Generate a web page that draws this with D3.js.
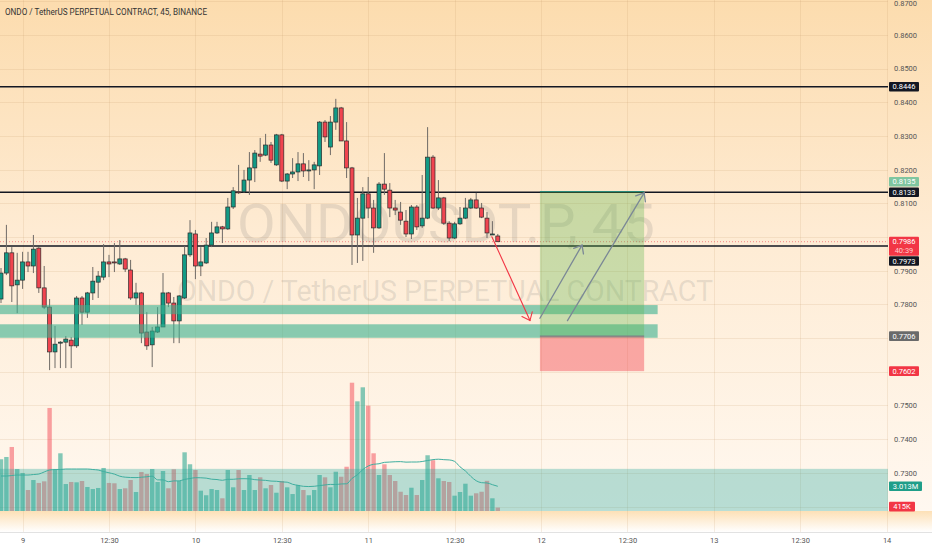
<!DOCTYPE html>
<html><head><meta charset="utf-8">
<script src="https://cdn.jsdelivr.net/npm/d3@7"></script>
<style>html,body{margin:0;padding:0;background:#fff;overflow:hidden}svg{display:block;font-family:Roboto,"Liberation Sans",sans-serif}</style>
</head><body><svg id="c" width="932" height="550"></svg>
<script>
// ---- DATA (ONDOUSDT.P, 45m) ----
const opens=[0.7816,0.7893,0.7953,0.7858,0.7872,0.7926,0.7914,0.7967,0.7849,0.7792,0.7659,0.7685,0.7688,0.7694,0.7677,0.7819,0.7777,0.7834,0.7866,0.7881,0.7926,0.7926,0.7920,0.7935,0.7902,0.7819,0.7834,0.7718,0.7680,0.7718,0.7733,0.7834,0.7804,0.7751,0.7819,0.7947,0.8009,0.7914,0.7923,0.7976,0.8012,0.8030,0.8024,0.8089,0.8134,0.8134,0.8169,0.8205,0.8246,0.8243,0.8273,0.8214,0.8303,0.8166,0.8187,0.8193,0.8217,0.8196,0.8199,0.8211,0.8341,0.8267,0.8341,0.8383,0.8285,0.8205,0.8006,0.8056,0.8128,0.8086,0.8027,0.8157,0.8139,0.8086,0.8074,0.8047,0.8009,0.8089,0.8033,0.8056,0.8237,0.8086,0.8116,0.8041,0.7997,0.8039,0.8056,0.8086,0.8110,0.8086,0.8056,0.8009,0.8003];
const highs=[0.7908,0.8036,0.7970,0.7953,0.7956,0.7956,0.8006,0.7970,0.7914,0.7816,0.7736,0.7691,0.7706,0.7703,0.7825,0.7825,0.7837,0.7911,0.7899,0.7979,0.7947,0.7982,0.7991,0.7938,0.7932,0.7864,0.7837,0.7777,0.7733,0.7792,0.7893,0.7837,0.7822,0.7828,0.7973,0.8050,0.8021,0.7970,0.7997,0.8045,0.8045,0.8033,0.8116,0.8148,0.8214,0.8199,0.8252,0.8258,0.8294,0.8306,0.8282,0.8306,0.8306,0.8190,0.8234,0.8252,0.8249,0.8228,0.8223,0.8344,0.8347,0.8359,0.8410,0.8386,0.8341,0.8208,0.8116,0.8148,0.8178,0.8110,0.8163,0.8249,0.8160,0.8110,0.8104,0.8080,0.8095,0.8095,0.8184,0.8326,0.8243,0.8169,0.8119,0.8047,0.8045,0.8089,0.8116,0.8116,0.8131,0.8101,0.8074,0.8047,0.8009];
const lows=[0.7804,0.7887,0.7807,0.7774,0.7846,0.7896,0.7893,0.7834,0.7786,0.7605,0.7611,0.7611,0.7611,0.7611,0.7671,0.7739,0.7760,0.7813,0.7819,0.7872,0.7881,0.7896,0.7917,0.7896,0.7813,0.7798,0.7685,0.7665,0.7614,0.7715,0.7733,0.7792,0.7685,0.7685,0.7816,0.7941,0.7875,0.7884,0.7920,0.7970,0.8009,0.7982,0.8021,0.8083,0.8128,0.8131,0.8125,0.8163,0.8223,0.8240,0.8220,0.8211,0.8163,0.8142,0.8175,0.8166,0.8178,0.8166,0.8142,0.8184,0.8282,0.8243,0.8318,0.8285,0.8175,0.7917,0.7923,0.7929,0.8056,0.7953,0.8024,0.8125,0.8059,0.8065,0.8036,0.8000,0.7994,0.8021,0.8027,0.8053,0.8083,0.8080,0.8036,0.7988,0.7994,0.8036,0.8053,0.8083,0.8083,0.8056,0.7997,0.8006,0.7985];
const closes=[0.7893,0.7953,0.7855,0.7872,0.7926,0.7914,0.7964,0.7849,0.7792,0.7659,0.7682,0.7688,0.7697,0.7677,0.7819,0.7777,0.7834,0.7869,0.7884,0.7926,0.7920,0.7923,0.7935,0.7905,0.7819,0.7834,0.7715,0.7677,0.7721,0.7733,0.7834,0.7804,0.7751,0.7825,0.7947,0.8012,0.7914,0.7926,0.7976,0.8012,0.8030,0.8024,0.8089,0.8137,0.8131,0.8169,0.8205,0.8249,0.8240,0.8273,0.8228,0.8303,0.8166,0.8187,0.8193,0.8217,0.8196,0.8199,0.8214,0.8341,0.8297,0.8341,0.8383,0.8285,0.8205,0.8006,0.8056,0.8128,0.8086,0.8027,0.8157,0.8142,0.8086,0.8080,0.8050,0.8009,0.8089,0.8030,0.8056,0.8237,0.8086,0.8116,0.8041,0.7997,0.8039,0.8056,0.8086,0.8110,0.8086,0.8059,0.8012,0.8009,0.7986];
// volume in millions
const volumes=[6.31,6.59,7.81,5.12,4.64,2.56,3.78,3.42,3.62,12.57,5.00,7.04,3.29,3.54,3.50,3.66,2.93,2.68,2.81,5.25,3.42,3.38,2.68,2.77,3.78,2.32,4.76,4.51,5.12,3.54,4.88,2.77,5.09,3.66,7.16,5.70,5.00,2.48,1.92,2.68,2.56,1.55,5.00,2.89,5.00,2.56,4.39,2.56,4.11,2.77,3.17,2.23,3.66,2.89,2.07,3.17,2.56,1.92,2.56,4.39,4.11,2.89,4.79,4.18,5.40,15.65,13.38,15.09,12.85,7.04,4.39,5.70,4.39,3.66,2.35,1.95,2.84,1.95,3.78,6.80,6.20,3.99,3.66,3.54,1.87,2.32,3.33,1.87,2.16,2.35,3.68,1.55,0.415];
// volume MA(20) values for the first bars (earlier bars are off-screen)
const volMaHead=[4.27,4.27,4.33,4.39,4.39,4.39,4.45,4.51,4.76,5.00,5.06,5.06,5.12,5.12,5.12,5.12,5.12,5.06,5.00];
const maPeriod=20;
const priceTicks=[0.73,0.74,0.75,0.76,0.77,0.78,0.79,0.80,0.81,0.82,0.83,0.84,0.85,0.86,0.87];
const timeTickIdx=[4,20,36,52,68,84,100,116,132,148,164];
const timeTickLabels=['9','12:30','10','12:30','11','12:30','12','12:30','13','12:30','14'];
const levelLines=[0.8446,0.8133,0.7973];
const lastPrice=0.7986, countdown='40:39';
const zones=[{top:0.7798,bottom:0.7771,endIdx:121.6},{top:0.7741,bottom:0.7701,endIdx:121.6}];
const volBox={top:0.7312,bottom:0.7187};
const position={startIdx:99.8,endIdx:119.1,target:0.8135,entry:0.7706,stop:0.7602};
const arrowsDown=[{i1:90.9,p1:0.8001,i2:97.96,p2:0.7752}];
const arrowsUp=[{i1:99.8,p1:0.7759,i2:107.6,p2:0.7976},{i1:104.9,p1:0.7752,i2:119.1,p2:0.8131}];
const title='ONDO / TetherUS PERPETUAL CONTRACT, 45, BINANCE';
const watermark1='ONDOUSDT.P, 45', watermark2='ONDO / TetherUS PERPETUAL CONTRACT';

// ---- LAYOUT ----
const W=932,H=550,plotR=888,volBase=511,axisTop=532;
const svg=d3.select('#c');
const x=d3.scaleLinear().domain([0,164]).range([1,1+5.4*164]);
const y=d3.scaleLinear().domain([0.72,0.87]).range([506.6,1.1]);
const vy=d3.scaleLinear().domain([0,20]).range([volBase,volBase-20/0.122]);

const defs=svg.append('defs');
const g1=defs.append('linearGradient').attr('id','bg').attr('x1',0).attr('y1',0).attr('x2',0).attr('y2',1);
g1.append('stop').attr('offset',0).attr('stop-color','#fcdcae');
g1.append('stop').attr('offset',0.45).attr('stop-color','#feebd3');
g1.append('stop').attr('offset',1).attr('stop-color','#fff8f0');
const g2=defs.append('linearGradient').attr('id','bg2').attr('x1',0).attr('y1',0).attr('x2',0).attr('y2',1);
g2.append('stop').attr('offset',0).attr('stop-color','#fde0b6');
g2.append('stop').attr('offset',1).attr('stop-color','#ffffff');
defs.append('clipPath').attr('id','plot').append('rect').attr('x',0).attr('y',0).attr('width',plotR).attr('height',volBase);

svg.append('rect').attr('width',W).attr('height',H).attr('fill','#fff');
svg.append('rect').attr('width',W).attr('height',volBase).attr('fill','url(#bg)');
svg.append('rect').attr('y',volBase).attr('width',W).attr('height',axisTop-volBase).attr('fill','url(#bg2)');
svg.append('line').attr('x1',0).attr('x2',W).attr('y1',axisTop+0.5).attr('y2',axisTop+0.5).attr('stroke','#e2e2e2');

// grid
const grid=svg.append('g').attr('stroke','rgba(190,150,100,0.16)').attr('stroke-width',1);
grid.selectAll('line.h').data(priceTicks.concat([0.72])).join('line').attr('x1',0).attr('x2',plotR)
  .attr('y1',d=>Math.round(y(d))+0.5).attr('y2',d=>Math.round(y(d))+0.5);
grid.selectAll('line.v').data(timeTickIdx).join('line').attr('y1',0).attr('y2',axisTop)
  .attr('x1',d=>Math.round(x(d))+0.5).attr('x2',d=>Math.round(x(d))+0.5);

// watermark
const wm=svg.append('g').attr('fill','rgba(110,110,110,0.17)').attr('text-anchor','middle');
wm.append('text').attr('x',446).attr('y',242).attr('font-size',54).attr('textLength',418).attr('lengthAdjust','spacingAndGlyphs').text(watermark1);
wm.append('text').attr('x',445).attr('y',301).attr('font-size',30).attr('textLength',536).attr('lengthAdjust','spacingAndGlyphs').text(watermark2);

// title
svg.append('text').attr('x',5).attr('y',15).attr('font-size',8.5).attr('fill','#333').attr('textLength',202).attr('lengthAdjust','spacingAndGlyphs').text(title);

const plot=svg.append('g').attr('clip-path','url(#plot)');
const idx=opens.map((_,i)=>i);
const up=i=>closes[i]>=opens[i];

// volume bars
plot.append('g').selectAll('rect').data(idx).join('rect')
  .attr('x',i=>x(i)-2.2).attr('width',4.4)
  .attr('y',i=>vy(volumes[i])).attr('height',i=>volBase-vy(volumes[i]))
  .attr('fill',i=>up(i)?'rgba(8,153,129,0.5)':'rgba(242,54,69,0.45)');
// teal rectangle over volume
plot.append('rect').attr('x',0).attr('width',plotR).attr('y',y(volBox.top)).attr('height',y(volBox.bottom)-y(volBox.top))
  .attr('fill','rgba(38,166,154,0.33)');
// volume MA
const ma=idx.map(i=>i<maPeriod-1?volMaHead[i]:d3.mean(volumes.slice(i-maPeriod+1,i+1)));
plot.append('path').datum(idx).attr('fill','none').attr('stroke','#3fae9f').attr('stroke-width',1)
  .attr('d',d3.line().x(i=>x(i)).y(i=>vy(ma[i])).curve(d3.curveMonotoneX));

// level lines
plot.append('g').selectAll('line').data(levelLines).join('line').attr('x1',0).attr('x2',plotR)
  .attr('y1',d=>y(d)).attr('y2',d=>y(d)).attr('stroke','#131722').attr('stroke-width',1.5);
// last price dotted
plot.append('line').attr('x1',0).attr('x2',plotR).attr('y1',y(lastPrice)).attr('y2',y(lastPrice))
  .attr('stroke','#f23645').attr('stroke-dasharray','1,2').attr('stroke-opacity',0.55);

// candles
const cg=plot.append('g');
cg.selectAll('line').data(idx).join('line').attr('x1',i=>x(i)).attr('x2',i=>x(i))
  .attr('y1',i=>y(highs[i])).attr('y2',i=>y(lows[i])).attr('stroke','#6f6a66').attr('stroke-width',1);
cg.selectAll('rect').data(idx).join('rect').attr('x',i=>x(i)-2).attr('width',4)
  .attr('y',i=>y(Math.max(opens[i],closes[i])))
  .attr('height',i=>Math.max(1,Math.abs(y(opens[i])-y(closes[i]))))
  .attr('fill',i=>up(i)?'#129a85':'#f0444f').attr('stroke','#2b2b2b').attr('stroke-width',0.7);

// zones
plot.append('g').selectAll('rect').data(zones).join('rect').attr('x',0).attr('width',d=>x(d.endIdx))
  .attr('y',d=>y(d.top)).attr('height',d=>y(d.bottom)-y(d.top)).attr('fill','rgba(59,176,143,0.6)');

// long position
const px1=x(position.startIdx), px2=x(position.endIdx);
plot.append('rect').attr('x',px1).attr('width',px2-px1).attr('y',y(position.target)).attr('height',y(position.entry)-y(position.target)).attr('fill','rgba(90,180,70,0.32)');
plot.append('rect').attr('x',px1).attr('width',px2-px1).attr('y',y(position.entry)).attr('height',y(position.stop)-y(position.entry)).attr('fill','rgba(242,54,69,0.4)');
plot.append('line').attr('x1',px1).attr('x2',px2).attr('y1',y(position.entry)).attr('y2',y(position.entry)).attr('stroke','#787b86').attr('stroke-width',1);
plot.append('line').attr('x1',px1).attr('x2',px2).attr('y1',y(position.target)).attr('y2',y(position.target)).attr('stroke','#2a8a7a').attr('stroke-width',1);

// arrows
function arrow(a,color,w){
  const X1=x(a.i1),Y1=y(a.p1),X2=x(a.i2),Y2=y(a.p2);
  const ang=Math.atan2(Y1-Y2,X1-X2), L=9, s=0.68;
  const gA=plot.append('g').attr('stroke',color).attr('stroke-width',w).attr('fill','none').attr('stroke-linecap','round');
  gA.append('line').attr('x1',X1).attr('y1',Y1).attr('x2',X2).attr('y2',Y2);
  gA.append('path').attr('d',`M${X2+L*Math.cos(ang+s)},${Y2+L*Math.sin(ang+s)}L${X2},${Y2}L${X2+L*Math.cos(ang-s)},${Y2+L*Math.sin(ang-s)}`);
}
arrowsDown.forEach(a=>arrow(a,'#f23645',1.1));
arrowsUp.forEach(a=>arrow(a,'#7b8896',1.3));

// right-side labels (positions collected so hidden tick labels can be dropped)
const f4=d3.format('.4f');
const ly=y(lastPrice);
const boxes=[];
function label(yc,text,bg,fg,w){
  boxes.push([yc-4.8,yc+4.8]);
  const gl=svg.append('g').attr('class','plabel');
  gl.append('rect').attr('x',889).attr('y',yc-4.8).attr('width',w||30).attr('height',9.6).attr('fill',bg).attr('rx',1);
  gl.append('text').attr('x',889+(w||30)/2).attr('y',yc+2.7).attr('text-anchor','middle').attr('font-size',7.5).attr('fill',fg).text(text);
}
boxes.push([ly-5,ly+14]);

// price axis (tick labels hidden behind price labels are dropped, as on the reference)
const pre=[y(levelLines[0]),y(levelLines[1]),y(levelLines[1])-10.5,ly+19.3,y(position.entry),y(position.stop),vy(3.0),vy(volumes[volumes.length-1])-1];
const hidden=d=>{const t=y(d);return (t>ly-6&&t<ly+15)||pre.some(c=>Math.abs(c-t)<6.5);};
const ax=svg.append('g').attr('transform',`translate(${plotR},0)`)
  .call(d3.axisRight(y).tickValues(priceTicks.filter(d=>!hidden(d))).tickFormat(d3.format('.4f')).tickSize(0).tickPadding(6));
ax.select('.domain').remove();
ax.selectAll('text').attr('font-size',7.5).attr('fill','#555').attr('font-family','Roboto,sans-serif')
  .attr('dy',d=>y(d)<4?'0.62em':'0.32em');

// time axis
const tx=svg.append('g').attr('transform',`translate(0,${axisTop})`)
  .call(d3.axisBottom(x).tickValues(timeTickIdx).tickFormat((d,i)=>timeTickLabels[i]).tickSize(0).tickPadding(6));
tx.select('.domain').remove();
tx.selectAll('text').attr('font-size',7.5).attr('fill','#555').attr('font-family','Roboto,sans-serif');

label(y(levelLines[0]),f4(levelLines[0]),'#131722','#fff');
label(y(levelLines[1]),f4(levelLines[1]),'#131722','#fff');
label(y(levelLines[1])-10.5,f4(position.target),'#7fc6a0','#fff');
// last price with countdown
svg.append('rect').attr('x',889).attr('y',ly-5).attr('width',30).attr('height',19).attr('fill','#f23645').attr('rx',1);
svg.append('text').attr('x',904).attr('y',ly+2.5).attr('text-anchor','middle').attr('font-size',7.5).attr('fill','#fff').text(f4(lastPrice));
svg.append('text').attr('x',904).attr('y',ly+11.5).attr('text-anchor','middle').attr('font-size',7.5).attr('fill','#fcc').text(countdown);
label(ly+19.3,f4(levelLines[2]),'#131722','#fff');
label(y(position.entry),f4(position.entry),'#6a6a6a','#fff');
label(y(position.stop),f4(position.stop),'#f23645','#fff');
label(vy(ma[ma.length-1]),ma[ma.length-1].toFixed(3)+'M','#1f9e89','#fff',33);
label(vy(volumes[volumes.length-1])-1,Math.round(volumes[volumes.length-1]*1000)+'K','#f23645','#fff',26);
</script></body></html>
